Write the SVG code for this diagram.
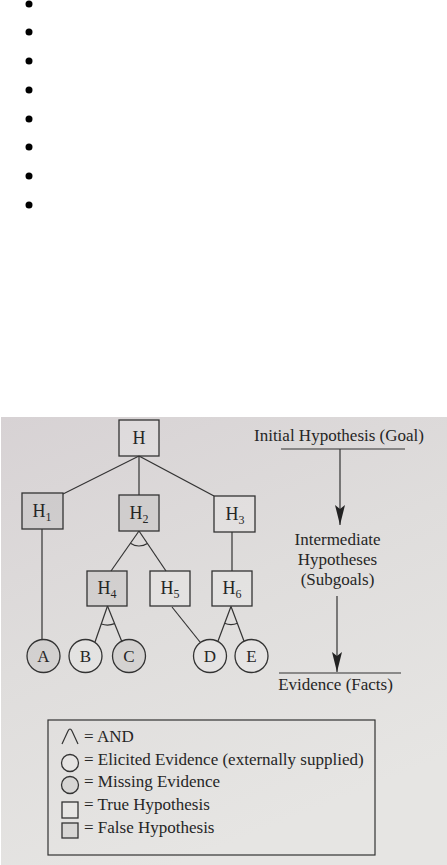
<svg xmlns="http://www.w3.org/2000/svg" width="447" height="865" viewBox="0 0 447 865">
<defs>
<linearGradient id="paper" x1="0" y1="0" x2="0.4" y2="1">
<stop offset="0" stop-color="#d7d2d4"/>
<stop offset="0.5" stop-color="#dfdddc"/>
<stop offset="1" stop-color="#e6e5e3"/>
</linearGradient>
<marker id="arr" viewBox="0 0 20 10" refX="20" refY="5" markerWidth="20" markerHeight="10" markerUnits="userSpaceOnUse" orient="auto">
<path d="M0,0 L4,5 L0,10 L20,5 Z" fill="#222"/>
</marker>
</defs>
<style>
.bul{fill:#000}
.ln{stroke:#333;stroke-width:1.2;fill:none}
.box{stroke:#333;stroke-width:1.3}
.t{fill:#fff;fill-opacity:0.15}
.f{fill:#000;fill-opacity:0.05}
.tx{font-family:"Liberation Serif","Times New Roman",serif;fill:#262626}
.lbl{font-size:18px;text-anchor:middle}
.sub{font-size:12px}
.cap{font-size:17px}
</style>
<g id="bullets">
<circle class="bul" cx="29" cy="4" r="3.5"/>
<circle class="bul" cx="29" cy="32" r="3.5"/>
<circle class="bul" cx="29" cy="61" r="3.5"/>
<circle class="bul" cx="29" cy="90" r="3.5"/>
<circle class="bul" cx="29" cy="119" r="3.5"/>
<circle class="bul" cx="29" cy="147" r="3.5"/>
<circle class="bul" cx="29" cy="176" r="3.5"/>
<circle class="bul" cx="29" cy="205" r="3.5"/>
</g>
<rect x="1" y="417" width="446" height="448" fill="url(#paper)"/>
<g id="connectors">
<line class="ln" x1="139" y1="456" x2="63" y2="494"/>
<line class="ln" x1="139" y1="456" x2="139" y2="495"/>
<line class="ln" x1="139" y1="456" x2="214" y2="496"/>
<line class="ln" x1="42" y1="529" x2="42" y2="639"/>
<line class="ln" x1="232" y1="532" x2="232" y2="571"/>
<line class="ln" x1="139" y1="531" x2="111" y2="571"/>
<line class="ln" x1="139" y1="531" x2="166" y2="571"/>
<path class="ln" d="M130.4,543.3 A15,15 0 0 0 147.4,543.4"/>
<line class="ln" x1="107.5" y1="606" x2="95" y2="642"/>
<line class="ln" x1="107.5" y1="606" x2="122" y2="642"/>
<path class="ln" d="M101.3,624 A19,19 0 0 0 114.6,623.6"/>
<line class="ln" x1="172" y1="607" x2="200" y2="642"/>
<line class="ln" x1="231" y1="606.5" x2="218" y2="641"/>
<line class="ln" x1="231" y1="606.5" x2="244" y2="641"/>
<path class="ln" d="M224.5,623.3 A18,18 0 0 0 237.5,623.3"/>
</g>
<g id="H"><rect class="box t" x="119" y="420" width="40" height="36"/><text class="tx lbl" x="139" y="444">H</text></g>
<g id="H1"><rect class="box f" x="22" y="493" width="41" height="36"/><text class="tx lbl" x="42" y="517">H<tspan class="sub" dy="4">1</tspan></text></g>
<g id="H2"><rect class="box f" x="119" y="495" width="40" height="36"/><text class="tx lbl" x="139" y="519">H<tspan class="sub" dy="4">2</tspan></text></g>
<g id="H3"><rect class="box t" x="214" y="496" width="41" height="36"/><text class="tx lbl" x="235" y="520">H<tspan class="sub" dy="4">3</tspan></text></g>
<g id="H4"><rect class="box f" x="87" y="571" width="40" height="35"/><text class="tx lbl" x="107" y="594">H<tspan class="sub" dy="4">4</tspan></text></g>
<g id="H5"><rect class="box t" x="150" y="571" width="40" height="35"/><text class="tx lbl" x="170" y="594">H<tspan class="sub" dy="4">5</tspan></text></g>
<g id="H6"><rect class="box t" x="212" y="571" width="40" height="35"/><text class="tx lbl" x="232" y="594">H<tspan class="sub" dy="4">6</tspan></text></g>
<g id="A"><circle class="box f" cx="43.5" cy="656" r="16.5"/><text class="tx cap" x="43.5" y="662" text-anchor="middle">A</text></g>
<g id="B"><circle class="box t" cx="85.5" cy="656" r="16.5"/><text class="tx cap" x="85.5" y="662" text-anchor="middle">B</text></g>
<g id="C"><circle class="box f" cx="129" cy="656" r="16.5"/><text class="tx cap" x="129" y="662" text-anchor="middle">C</text></g>
<g id="D"><circle class="box t" cx="210" cy="656" r="16.5"/><text class="tx cap" x="210" y="662" text-anchor="middle">D</text></g>
<g id="E"><circle class="box t" cx="251.5" cy="656" r="16.5"/><text class="tx cap" x="251.5" y="662" text-anchor="middle">E</text></g>
<g id="levels">
<text class="tx cap" x="339" y="441" text-anchor="middle">Initial Hypothesis (Goal)</text>
<line class="ln" x1="281" y1="449" x2="405" y2="449"/>
<line class="ln" x1="340" y1="449" x2="340" y2="525" marker-end="url(#arr)"/>
<text class="tx cap" x="337.5" y="545" text-anchor="middle">Intermediate</text>
<text class="tx cap" x="337.5" y="565" text-anchor="middle">Hypotheses</text>
<text class="tx cap" x="337.5" y="585" text-anchor="middle">(Subgoals)</text>
<line class="ln" x1="337" y1="596" x2="337" y2="672" marker-end="url(#arr)"/>
<line class="ln" x1="279" y1="673" x2="401" y2="673"/>
<text class="tx cap" x="335.5" y="690" text-anchor="middle">Evidence (Facts)</text>
</g>
<g id="legend">
<rect x="48" y="720" width="327" height="135" fill="none" stroke="#333" stroke-width="1.2"/>
<path class="ln" d="M62,744 L68,731 Q70,727 72,731 L78,744"/>
<text class="tx cap" x="84" y="742">= AND</text>
<circle class="box t" cx="70" cy="763" r="8.5"/>
<text class="tx cap" x="84" y="765">= Elicited Evidence (externally supplied)</text>
<circle class="box f" cx="70" cy="785" r="8.5"/>
<text class="tx cap" x="84" y="787">= Missing Evidence</text>
<rect class="box t" x="62" y="802" width="16" height="16"/>
<text class="tx cap" x="84" y="810">= True Hypothesis</text>
<rect class="box f" x="62" y="823" width="16" height="15"/>
<text class="tx cap" x="84" y="833">= False Hypothesis</text>
</g>
</svg>
